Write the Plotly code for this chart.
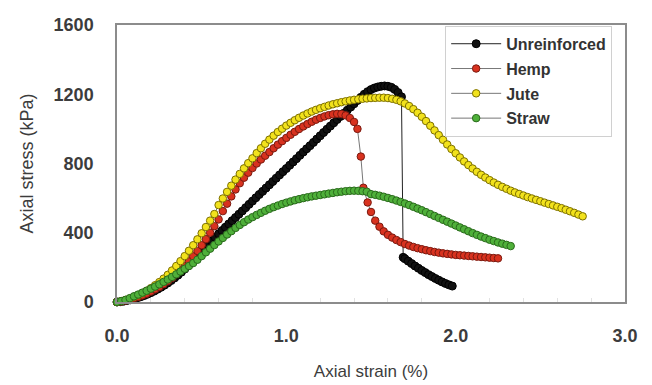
import plotly.graph_objects as go

# ---------------- data ----------------
unre_x = [0.00, 0.02, 0.04, 0.06, 0.08, 0.10, 0.12, 0.14, 0.16, 0.18, 0.20, 0.22, 0.24, 0.26, 0.28, 0.30,
          0.32, 0.34, 0.36, 0.38, 0.40, 0.42, 0.44, 0.46, 0.48, 0.50, 0.52, 0.54, 0.56, 0.58, 0.60,
          0.62, 0.64, 0.66, 0.68, 0.70, 0.72, 0.74, 0.76, 0.78, 0.80, 0.82, 0.84, 0.86, 0.88, 0.90,
          0.92, 0.94, 0.96, 0.98, 1.00, 1.02, 1.04, 1.06, 1.08, 1.10, 1.12, 1.14, 1.16, 1.18, 1.20,
          1.22, 1.24, 1.26, 1.28, 1.30, 1.32, 1.34, 1.36, 1.38, 1.40, 1.42, 1.44, 1.46, 1.48, 1.50,
          1.52, 1.54, 1.56, 1.58, 1.60, 1.62, 1.64, 1.66, 1.68,
          1.69, 1.70, 1.72, 1.74, 1.76, 1.78, 1.80, 1.82, 1.84, 1.86, 1.88, 1.90, 1.92, 1.94, 1.96, 1.98]
unre_y = [0, 2, 5, 9, 13, 18, 24, 30, 37, 45, 54, 63, 74, 85, 97, 110,
          124, 139, 155, 172, 190, 209, 228, 248, 268, 289, 310, 331, 352, 373, 394,
          413, 432, 451, 470, 488, 507, 526, 545, 564, 583, 602, 621, 639, 658, 677,
          696, 715, 734, 753, 771, 790, 809, 828, 847, 866, 885, 903, 922, 941, 960,
          979, 998, 1016, 1035, 1054, 1072, 1090, 1108, 1126, 1145, 1164, 1182, 1200, 1215, 1227,
          1236, 1242, 1246, 1248, 1246, 1240, 1228, 1210, 1185,
          258, 250, 236, 222, 208, 195, 182, 170, 158, 147, 136, 126, 116, 107, 99, 92]

hemp_x = [0.000, 0.025, 0.050, 0.075, 0.100, 0.125, 0.150, 0.175, 0.200, 0.225, 0.250, 0.275, 0.300,
          0.325, 0.350, 0.375, 0.400, 0.425, 0.450, 0.475, 0.500, 0.525, 0.550, 0.575, 0.600, 0.625,
          0.650, 0.675, 0.700, 0.725, 0.750, 0.775, 0.800, 0.825, 0.850, 0.875, 0.900, 0.925, 0.950,
          0.975, 1.000, 1.025, 1.050, 1.075, 1.100, 1.125, 1.150, 1.175, 1.200, 1.225, 1.250, 1.275,
          1.300, 1.325, 1.350, 1.375, 1.400, 1.420, 1.440, 1.455, 1.480, 1.500, 1.525, 1.550, 1.575,
          1.600, 1.625, 1.650, 1.675, 1.700, 1.725, 1.750, 1.775, 1.800, 1.825, 1.850, 1.875, 1.900,
          1.925, 1.950, 1.975, 2.000, 2.025, 2.050, 2.075, 2.100, 2.125, 2.150, 2.175, 2.200, 2.225, 2.250]
hemp_y = [0, 3, 8, 14, 21, 29, 38, 48, 60, 73, 87, 103, 120,
          139, 160, 183, 208, 235, 264, 295, 328, 363, 400, 438, 477, 525,
          568, 610, 650, 686, 718, 747, 774, 800, 823, 845, 866, 888, 909,
          929, 948, 966, 983, 999, 1014, 1028, 1041, 1053, 1063, 1072, 1079, 1084,
          1087, 1086, 1078, 1063, 1040, 1000, 840, 660, 575, 520, 470, 435, 408,
          388, 372, 358, 346, 335, 326, 318, 311, 305, 299, 294, 289, 285,
          281, 278, 275, 272, 270, 268, 266, 264, 262, 260, 258, 256, 254, 252]

jute_x = [0.000, 0.025, 0.050, 0.075, 0.100, 0.125, 0.150, 0.175, 0.200, 0.225, 0.250, 0.275, 0.300,
          0.325, 0.350, 0.375, 0.400, 0.425, 0.450, 0.475, 0.500, 0.525, 0.550, 0.575, 0.600, 0.625,
          0.650, 0.675, 0.700, 0.725, 0.750, 0.775, 0.800, 0.825, 0.850, 0.875, 0.900, 0.925, 0.950,
          0.975, 1.000, 1.025, 1.050, 1.075, 1.100, 1.125, 1.150, 1.175, 1.200, 1.225, 1.250, 1.275,
          1.300, 1.325, 1.350, 1.375, 1.400, 1.425, 1.450, 1.475, 1.500, 1.525, 1.550, 1.575, 1.600,
          1.625, 1.650, 1.675, 1.700, 1.725, 1.750, 1.775, 1.800, 1.825, 1.850, 1.875, 1.900, 1.925,
          1.950, 1.975, 2.000, 2.025, 2.050, 2.075, 2.100, 2.125, 2.150, 2.175, 2.200, 2.225, 2.250,
          2.275, 2.300, 2.325, 2.350, 2.375, 2.400, 2.425, 2.450, 2.475, 2.500, 2.525, 2.550, 2.575,
          2.600, 2.625, 2.650, 2.675, 2.700, 2.725, 2.750]
jute_y = [0, 5, 12, 20, 30, 40, 52, 65, 80, 97, 115, 135, 157,
          182, 208, 236, 265, 296, 328, 362, 397, 433, 470, 508, 560, 598,
          636, 672, 707, 740, 772, 802, 830, 860, 888, 914, 938, 961, 982,
          1001, 1019, 1035, 1050, 1064, 1077, 1089, 1100, 1110, 1119, 1127, 1135, 1142,
          1148, 1154, 1159, 1164, 1168, 1171, 1174, 1176, 1178, 1179, 1180, 1180, 1178,
          1174, 1168, 1159, 1147, 1132, 1114, 1093, 1070, 1045, 1018, 991, 964, 937,
          910, 884, 859, 835, 812, 791, 771, 752, 735, 719, 704, 690, 677,
          665, 654, 643, 633, 624, 615, 606, 598, 590, 582, 574, 566, 558,
          550, 542, 533, 524, 515, 505, 495]

straw_x = [0.000, 0.025, 0.050, 0.075, 0.100, 0.125, 0.150, 0.175, 0.200, 0.225, 0.250, 0.275, 0.300,
           0.325, 0.350, 0.375, 0.400, 0.425, 0.450, 0.475, 0.500, 0.525, 0.550, 0.575, 0.600, 0.625,
           0.650, 0.675, 0.700, 0.725, 0.750, 0.775, 0.800, 0.825, 0.850, 0.875, 0.900, 0.925, 0.950,
           0.975, 1.000, 1.025, 1.050, 1.075, 1.100, 1.125, 1.150, 1.175, 1.200, 1.225, 1.250, 1.275,
           1.300, 1.325, 1.350, 1.375, 1.400, 1.425, 1.450, 1.475, 1.500, 1.525, 1.550, 1.575, 1.600,
           1.625, 1.650, 1.675, 1.700, 1.725, 1.750, 1.775, 1.800, 1.825, 1.850, 1.875, 1.900, 1.925,
           1.950, 1.975, 2.000, 2.025, 2.050, 2.075, 2.100, 2.125, 2.150, 2.175, 2.200, 2.225, 2.250,
           2.275, 2.300, 2.325]
straw_y = [0, 5, 12, 22, 33, 43, 54, 65, 77, 89, 102, 116, 130,
           145, 160, 176, 192, 208, 225, 244, 265, 287, 308, 329, 350, 370,
           390, 409, 428, 445, 461, 476, 490, 503, 515, 527, 538, 548, 557,
           566, 574, 581, 588, 594, 600, 605, 610, 614, 618, 622, 626, 630,
           634, 637, 640, 642, 643, 642, 640, 637, 623, 619, 614, 608, 601,
           594, 586, 578, 569, 560, 550, 540, 530, 519, 508, 497, 486, 475,
           464, 453, 442, 431, 420, 409, 398, 388, 378, 369, 360, 352, 344,
           337, 330, 323]

series_names = ["Unreinforced", "Hemp", "Jute", "Straw"]
x_ticks = [0, 1, 2, 3]
x_tick_text = ["0.0", "1.0", "2.0", "3.0"]
y_ticks = [0, 400, 800, 1200, 1600]

# ---------------- styles ----------------
styles = [
    dict(fill="#111111", edge="#000000", line="#222222", size=8),
    dict(fill="#d8321f", edge="#7a1a10", line="#777777", size=7.5),
    dict(fill="#f2e21c", edge="#7d7000", line="#777777", size=7.5),
    dict(fill="#4fb03a", edge="#2a6a1c", line="#777777", size=7.5),
]
data = [(unre_x, unre_y), (hemp_x, hemp_y), (jute_x, jute_y), (straw_x, straw_y)]

FONT = "Liberation Sans, Arial, sans-serif"
TXT = "#3c3c3c"

fig = go.Figure()
for name, (xs, ys), st in zip(series_names, data, styles):
    fig.add_trace(go.Scatter(
        x=xs, y=ys, name=name, mode="lines+markers",
        legendgroup=name,
        line=dict(color=st["line"], width=1),
        marker=dict(size=st["size"], color=st["fill"], line=dict(color=st["edge"], width=1)),
        cliponaxis=False,
    ))

axis_common = dict(
    showline=True, linecolor="#8c8c8c", linewidth=1.5, mirror=True,
    showgrid=False, zeroline=False,
    ticklabeloverflow="allow",
    tickfont=dict(family=FONT, size=18, color=TXT, weight="bold"),
)

# the page body adds an 8px offset, so the figure is 8px smaller than the window
fig.update_layout(
    width=644, height=377,
    margin=dict(l=109, r=27, t=7, b=82),
    paper_bgcolor="white", plot_bgcolor="white",
    font=dict(family=FONT, color=TXT),
    xaxis=dict(
        range=[0, 3], tickvals=x_ticks, ticktext=x_tick_text,
        ticks="", ticklabelstandoff=17,
        minor=dict(ticks="inside", tickvals=[0.2, 0.4, 0.6, 0.8, 1.2, 1.4, 1.6, 1.8, 2.2, 2.4, 2.6, 2.8],
                   ticklen=4, tickcolor="#e2e2e2"),
        title=dict(text="Axial strain (%)", standoff=20,
                   font=dict(family=FONT, size=17, color=TXT)),
        **axis_common,
    ),
    yaxis=dict(
        range=[0, 1600], tickvals=y_ticks,
        ticks="", ticklabelstandoff=18,
        title=dict(text="Axial stress (kPa)", standoff=15,
                   font=dict(family=FONT, size=18, color=TXT)),
        **axis_common,
    ),
    legend=dict(
        x=0.646, y=0.997, xanchor="left", yanchor="top",
        bgcolor="white", bordercolor="#d0d0d0", borderwidth=1,
        font=dict(family=FONT, size=16, color="#333333", weight="bold"),
        tracegroupgap=1, traceorder="grouped",
        itemwidth=50,
    ),
    showlegend=True,
)

fig.write_html("out.html")
